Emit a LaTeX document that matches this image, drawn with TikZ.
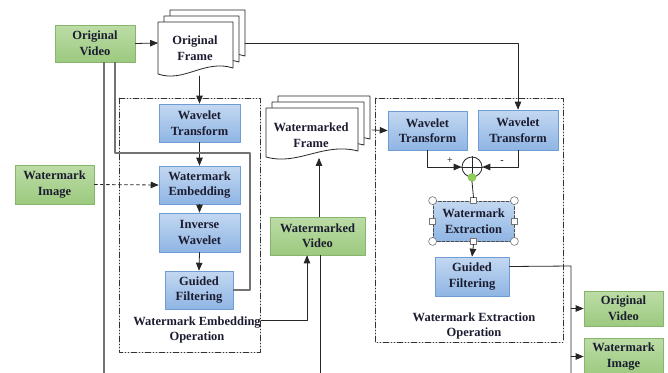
\documentclass[tikz,border=0pt]{standalone}
\usepackage{fontspec}
\setmainfont{Liberation Serif}
\usetikzlibrary{arrows,calc}
\definecolor{greentop}{HTML}{BCDDA6}
\definecolor{greenbot}{HTML}{9CC97F}
\definecolor{greenline}{HTML}{86B56C}
\definecolor{bluetop}{HTML}{C3D8F1}
\definecolor{bluebot}{HTML}{8FB5E4}
\definecolor{blueline}{HTML}{6F9CD3}
\definecolor{txt}{HTML}{1C1C30}
\definecolor{dotgreen}{HTML}{8ED04F}

% one page of a frame stack: top-left x, top-left y, width, height
\newcommand{\framepage}[4]{%
  \filldraw[fill=white,draw=black!85,line width=0.8pt] ({#1},{#2}) -- ({#1+#3},{#2}) -- ({#1+#3},{#2+#4-9})
    .. controls ({#1+0.62*#3},{#2+#4-18}) and ({#1+0.35*#3},{#2+#4+6}) .. ({#1},{#2+#4-3}) -- cycle;}

\begin{document}
\begin{tikzpicture}[line cap=round,line join=round,>=triangle 45,x=1pt,y=-1pt,
    font=\fontsize{12.5}{15.5}\selectfont\bfseries,
    greenbox/.style={draw=greenline,line width=0.8pt,top color=greentop,bottom color=greenbot,
      align=center,inner sep=0pt,text=txt},
    bluebox/.style={draw=blueline,line width=0.8pt,top color=bluetop,bottom color=bluebot,
      align=center,inner sep=0pt,text=txt},
    plaintext/.style={align=center,inner sep=0pt,text=txt},
    opbox/.style={draw=black!80,line width=0.8pt,dash pattern=on 6pt off 2pt on 1pt off 2pt on 1pt off 2pt},
    conn/.style={draw=black!85,line width=0.8pt},
    grayline/.style={draw=black!55,line width=1.3pt},
    handle/.style={fill=white,draw=black!55,line width=0.6pt}]
  \clip (0,0) rectangle (668,372);

  % operation frames
  \draw[opbox] (119,98) rectangle (260,352);
  \draw[opbox] (375,98) rectangle (563,342);

  % frame stacks
  \foreach \o in {12,6,0} {\framepage{158+\o}{22-\o}{75}{55}}
  \foreach \o in {12,6,0} {\framepage{266+\o}{108-\o}{92}{52}}
  \node[plaintext] (ofrm) at (195,48) {Original\\Frame};
  \node[plaintext] (wfrm) at (311,135) {Watermarked\\Frame};
  \coordinate (ofl) at (158,43);
  \coordinate (ofr) at (245,43);
  \coordinate (ofb) at (199.5,76);
  \coordinate (wfr) at (372,130);
  \coordinate (wfb) at (319,158);

  % green boxes
  \node[greenbox,minimum width=80,minimum height=37] (ovid) at (95,43.5) {Original\\Video};
  \node[greenbox,minimum width=79,minimum height=39] (wimg) at (54.5,184.5) {Watermark\\Image};
  \node[greenbox,minimum width=95,minimum height=38] (wmv) at (317.5,236) {Watermarked\\Video};
  \node[greenbox,minimum width=79,minimum height=35] (ovid2) at (623.5,308.5) {Original\\Video};
  \node[greenbox,minimum width=79,minimum height=37] (wimg2) at (623.5,356.5) {Watermark\\Image};

  % embedding side
  \node[bluebox,minimum width=81,minimum height=38] (wt) at (199.5,123) {Wavelet\\Transform};
  \node[bluebox,minimum width=81,minimum height=38] (we) at (199.5,185) {Watermark\\Embedding};
  \node[bluebox,minimum width=81,minimum height=39] (iw) at (199.5,232.5) {Inverse\\Wavelet};
  \node[bluebox,minimum width=68,minimum height=38] (gf) at (199,290) {Guided\\Filtering};
  \node[plaintext] (embop) at (197,330) {Watermark Embedding\\Operation};

  % extraction side
  \node[bluebox,minimum width=79,minimum height=39] (wt1) at (427.5,130.5) {Wavelet\\Transform};
  \node[bluebox,minimum width=80,minimum height=40] (wt2) at (518,130) {Wavelet\\Transform};
  \node[circle,draw=black!85,line width=0.8pt,fill=white,minimum size=20,inner sep=0pt] (sum) at (472,167) {};
  \draw[conn] (sum.north) -- (sum.south);
  \draw[conn] (sum.west) -- (sum.east);
  \node[circle,fill=dotgreen,draw=greenline,line width=0.4pt,minimum size=8,inner sep=0pt] (gdot) at (sum.south) {};
  \node[bluebox,draw=black!70,dash pattern=on 3pt off 1.5pt,minimum width=81,minimum height=40] (wx) at (473.5,221) {Watermark\\Extraction};
  \foreach \p in {north west,north east,south west,south east} {\filldraw[handle] (wx.\p) circle (4);}
  \foreach \p in {north,south,east,west} {\filldraw[handle] ($(wx.\p)+(-3,-3)$) rectangle ++(6,6);}
  \node[bluebox,minimum width=74,minimum height=39] (gf2) at (472,276.5) {Guided\\Filtering};
  \node[plaintext] (extop) at (474,326) {Watermark Extraction\\Operation};
  \node[font=\fontsize{10}{12}\selectfont,inner sep=0pt] (plus) at (450,161) {+};
  \node[font=\fontsize{10}{12}\selectfont,inner sep=0pt] (minus) at (502,162) {-};
  \coordinate (tap) at (571,266);

  % connectors
  \draw[conn,->] (ovid.east) -- (ofl);
  \draw[conn,->] (ofr) -| (wt2.north);
  \draw[conn,->] (ofb) -- (wt.north);
  \draw[conn,->] (wt.south) -- (we.north);
  \draw[conn,->] (we.south) -- (iw.north);
  \draw[conn,->] (iw.south) -- (gf.north);
  \draw[conn,dashed,->] (wimg.east) -- (we.west);
  \draw[grayline] ([xshift=9pt]ovid.south) -- ++(0,330);
  \draw[grayline] ([xshift=20pt]ovid.south) |- (250,153) |- (gf.east);
  \draw[conn,->] ([yshift=10pt]embop.east) -| ([xshift=-10.5pt]wmv.south);
  \draw[conn,->] ([xshift=1.5pt]wmv.north) -- (wfb);
  \draw[conn] ([xshift=2.5pt]wmv.south) -- ++(0,130);
  \draw[conn,->] (wfr) -- (wt1.west);
  \draw[conn,->] (wt1.south) |- (sum.west);
  \draw[conn,->] (wt2.south) |- (sum.east);
  \draw[conn] (gdot.south) -- ([yshift=3pt]wx.north);
  \draw[conn,->] ([yshift=-3pt]wx.south) -- (gf2.north);
  \draw[conn] ([yshift=10pt]gf2.east) -- (tap) -- ++(0,120);
  \draw[conn,->] (ovid2.west -| tap) -- (ovid2.west);
  \draw[conn,->] (wimg2.west -| tap) -- (wimg2.west);
\end{tikzpicture}
\end{document}
